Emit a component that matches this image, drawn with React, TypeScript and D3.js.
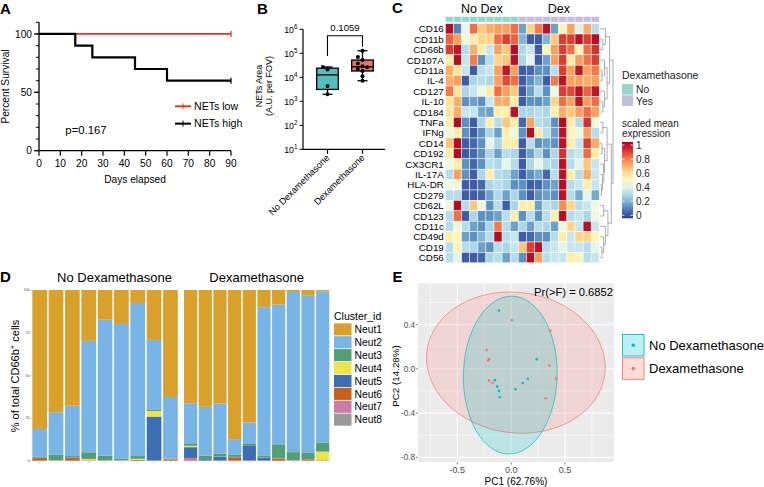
import React from "react";
import * as d3 from "d3";

const FF = "'Liberation Sans', Arial, Helvetica, sans-serif";

// ---------------- Panel A : Kaplan-Meier ----------------
const kmDayTicks = [0, 10, 20, 30, 40, 50, 60, 70, 80, 90];
const kmPctTicks = [0, 50, 100];
const kmPctMinor = [0, 10, 20, 30, 40, 50, 60, 70, 80, 90, 100, 110];
const netsLowTimes = [0, 90];
const netsLowSurv = [100, 100];
const netsHighTimes = [0, 17, 25, 45, 60, 90];
const netsHighSurv = [100, 90, 80, 70, 60, 60];
const kmLegend = ["NETs low", "NETs high"];
const kmColors = ["#E8321E", "#000000"];
const kmP = "p=0.167";

// ---------------- Panel B : box plot ----------------
const bGroups = ["No Dexamethasone", "Dexamethasone"];
const bNoDex = [1950, 4300, 21000, 27000];
const bDex = [7200, 11000, 18300, 22000, 26000, 29000, 38000, 52500, 70000, 128000];
const bColors = ["#52BEC0", "#E5746B"];
const bTicks = [1e1, 1e2, 1e3, 1e4, 1e5, 1e6];
const bP = "0.1059";

// ---------------- Panel C : heatmap ----------------
const hmMarkers = ["CD16", "CD11b", "CD66b", "CD107A", "CD11a", "IL-4", "CD127", "IL-10", "CD184", "TNFa", "IFNg", "CD14", "CD192", "CX3CR1", "IL-17A", "HLA-DR", "CD279", "CD62L", "CD123", "CD11c", "CD49d", "CD19", "CD56"];
const hmColGroup = ["No", "No", "No", "No", "No", "No", "No", "No", "No", "Yes", "Yes", "Yes", "Yes", "Yes", "Yes", "Yes", "Yes", "Yes", "Yes"];
const hmValues = [
  [0.97, 0.12, 0.42, 0.8, 0.65, 0.7, 0.72, 0.72, 0.8, 0.18, 0.62, 0.78, 0.96, 0.18, 0.52, 0.72, 0.4, 0.7, 0.32],
  [0.82, 0.72, 0.45, 0.55, 0.62, 0.62, 0.8, 0.88, 0.82, 0.22, 0.06, 0.06, 0.22, 0.65, 0.88, 0.88, 0.96, 0.88, 0.97],
  [0.88, 0.95, 0.32, 0.7, 0.55, 0.35, 0.72, 0.65, 0.97, 0.3, 0.35, 0.06, 0.52, 0.72, 0.88, 0.8, 0.52, 0.8, 0.9],
  [0.55, 0.97, 0.35, 0.78, 0.15, 0.32, 0.62, 0.65, 0.96, 0.3, 0.42, 0.06, 0.18, 0.72, 0.88, 0.55, 0.72, 0.8, 0.88],
  [0.7, 0.58, 0.35, 0.06, 0.32, 0.35, 0.72, 0.95, 0.72, 0.06, 0.08, 0.15, 0.15, 0.32, 0.88, 0.72, 0.95, 0.72, 0.78],
  [0.7, 0.72, 0.06, 0.3, 0.32, 0.3, 0.72, 0.86, 0.8, 0.06, 0.15, 0.22, 0.06, 0.78, 0.96, 0.72, 0.72, 0.7, 0.72],
  [0.78, 0.58, 0.3, 0.35, 0.45, 0.55, 0.8, 0.72, 0.65, 0.06, 0.18, 0.32, 0.15, 0.45, 0.88, 0.86, 0.96, 0.82, 0.95],
  [0.58, 0.7, 0.15, 0.18, 0.15, 0.35, 0.7, 0.7, 0.55, 0.06, 0.15, 0.15, 0.18, 0.62, 0.8, 0.72, 0.95, 0.72, 0.8],
  [0.58, 0.7, 0.35, 0.35, 0.2, 0.18, 0.55, 0.55, 0.96, 0.3, 0.3, 0.32, 0.3, 0.55, 0.7, 0.65, 0.72, 0.8, 0.72],
  [0.55, 0.97, 0.15, 0.06, 0.3, 0.55, 0.32, 0.65, 0.55, 0.08, 0.72, 0.32, 0.3, 0.15, 0.97, 0.55, 0.32, 0.9, 0.45],
  [0.45, 0.55, 0.15, 0.06, 0.15, 0.3, 0.18, 0.55, 0.45, 0.15, 0.97, 0.55, 0.32, 0.18, 0.96, 0.52, 0.45, 0.72, 0.32],
  [0.65, 0.97, 0.06, 0.08, 0.15, 0.42, 0.3, 0.55, 0.55, 0.06, 0.32, 0.15, 0.18, 0.15, 0.96, 0.55, 0.35, 0.88, 0.7],
  [0.55, 0.97, 0.06, 0.08, 0.15, 0.3, 0.18, 0.32, 0.3, 0.06, 0.18, 0.3, 0.15, 0.3, 0.9, 0.32, 0.35, 0.8, 0.55],
  [0.45, 0.55, 0.15, 0.08, 0.15, 0.32, 0.3, 0.42, 0.32, 0.06, 0.3, 0.42, 0.32, 0.3, 0.96, 0.32, 0.42, 0.65, 0.35],
  [0.32, 0.72, 0.15, 0.06, 0.3, 0.55, 0.32, 0.3, 0.18, 0.06, 0.15, 0.2, 0.08, 0.32, 0.96, 0.55, 0.32, 0.7, 0.35],
  [0.45, 0.45, 0.06, 0.06, 0.08, 0.3, 0.32, 0.3, 0.15, 0.15, 0.06, 0.08, 0.15, 0.18, 0.97, 0.32, 0.35, 0.55, 0.35],
  [0.32, 0.32, 0.06, 0.06, 0.08, 0.18, 0.3, 0.18, 0.3, 0.15, 0.06, 0.15, 0.18, 0.15, 0.96, 0.32, 0.2, 0.42, 0.2],
  [0.45, 0.97, 0.32, 0.65, 0.45, 0.15, 0.32, 0.06, 0.3, 0.55, 0.55, 0.18, 0.32, 0.3, 0.75, 0.62, 0.32, 0.35, 0.45],
  [0.32, 0.8, 0.06, 0.3, 0.15, 0.15, 0.18, 0.32, 0.55, 0.15, 0.32, 0.15, 0.32, 0.55, 0.97, 0.32, 0.35, 0.3, 0.45],
  [0.32, 0.45, 0.32, 0.18, 0.15, 0.3, 0.78, 0.32, 0.18, 0.3, 0.18, 0.32, 0.3, 0.18, 0.45, 0.62, 0.35, 0.96, 0.35],
  [0.55, 0.52, 0.18, 0.15, 0.22, 0.32, 0.97, 0.32, 0.35, 0.06, 0.08, 0.15, 0.15, 0.32, 0.55, 0.35, 0.62, 0.62, 0.52],
  [0.32, 0.52, 0.32, 0.3, 0.18, 0.15, 0.32, 0.3, 0.35, 0.65, 0.88, 0.96, 0.32, 0.35, 0.42, 0.35, 0.35, 0.32, 0.42],
  [0.32, 0.42, 0.06, 0.06, 0.08, 0.3, 0.32, 0.18, 0.32, 0.15, 0.97, 0.72, 0.32, 0.35, 0.35, 0.55, 0.52, 0.32, 0.35],
];
const hmGroupLabels = ["No Dex", "Dex"];
const hmGroupColors: Record<string, string> = { No: "#96D6CA", Yes: "#C2BEDF" };
const hmLegendTicks = [0, 0.2, 0.4, 0.6, 0.8, 1];
type DNode = number | { h: number; l: DNode; r: DNode };
const dn = (h: number, l: DNode, r: DNode): DNode => ({ h, l, r });
const hmDendro: DNode = dn(15,
  dn(11, dn(6, 0, dn(3, 1, 2)), dn(8, dn(5, 3, dn(2, 4, 5)), dn(5, 6, dn(3, 7, 8)))),
  dn(13,
    dn(8, dn(3, 9, 10), dn(5, dn(2, 11, 12), dn(4, 13, dn(2.5, 14, dn(1.5, 15, 16))))),
    dn(9, dn(4, 17, 18), dn(6, 19, dn(4, 20, dn(2, 21, 22))))));

// ---------------- Panel D : stacked bars ----------------
const dGroups = ["No Dexamethasone", "Dexamethasone"];
const dSampleGroup = [0, 0, 0, 0, 0, 0, 0, 0, 0, 1, 1, 1, 1, 1, 1, 1, 1, 1, 1];
const dClusters = ["Neut1", "Neut2", "Neut3", "Neut4", "Neut5", "Neut6", "Neut7", "Neut8"];
const dColors = ["#D9A02B", "#79B4E6", "#519F77", "#ECE44A", "#3B6EB2", "#C8611D", "#C97BAA", "#9A9A9A"];
const dNeut1 = [81.5, 71.7, 67.7, 29.8, 17.4, 19.9, 7.6, 29.2, 63.0, 66.3, 68.6, 66.7, 87.3, 77.8, 10.1, 8.6, 1.2, 3.1, 0.8];
const dNeut2 = [16.4, 25.0, 29.5, 65.3, 79.7, 79.1, 89.6, 41.0, 36.2, 23.4, 28.6, 29.5, 9.2, 12.2, 87.3, 81.8, 93.9, 92.6, 88.7];
const dNeut3 = [0.5, 3.1, 1.0, 3.9, 2.7, 0.8, 1.6, 0.6, 0.3, 1.5, 2.0, 1.5, 1.2, 1.0, 1.0, 8.2, 4.7, 3.5, 5.4];
const dNeut4 = [0.1, 0.1, 0.1, 0.8, 0.1, 0.1, 0.5, 3.3, 0.1, 0.8, 0.1, 0.1, 0.1, 0.1, 0.1, 0.1, 0.1, 0.1, 5.1];
const dNeut5 = [0.1, 0.1, 0.1, 0.1, 0.1, 0.1, 0.1, 25.7, 0.1, 6.3, 0.8, 2.3, 0.1, 9.0, 1.6, 0.1, 0.1, 0.1, 0.1];
const dNeut6 = [1.5, 0.1, 1.5, 0.1, 0.1, 0.1, 0.5, 0.1, 0.8, 0.5, 0.1, 0.1, 2.0, 0.1, 0.1, 1.2, 0.1, 0.8, 0.1];
const dNeut7 = [0.1, 0.1, 0.1, 0.1, 0.1, 0.1, 0.1, 0.1, 0.1, 1.2, 0.1, 0.1, 0.1, 0.1, 0.1, 0.1, 0.1, 0.1, 0.1];
const dNeut8 = [0.1, 0.1, 0.1, 0.1, 0.1, 0.1, 0.1, 0.1, 0.1, 0.1, 0.1, 0.1, 0.1, 0.1, 0.1, 0.1, 0.1, 0.1, 0.1];
const dYTicks = [0, 25, 50, 75, 100];

// ---------------- Panel E : PCA ----------------
const eGroups = ["No Dexamethasone", "Dexamethasone"];
const eColors = ["#00BFC4", "#F8766D"];
const eNoDexPC1 = [-0.114, 0.238, 0.155, 0.108, 0.04, -0.151, -0.13, -0.114, -0.105];
const eNoDexPC2 = [0.527, 0.088, -0.09, -0.127, -0.184, -0.102, -0.16, -0.199, -0.256];
const eDexPC1 = [0.006, 0.364, -0.229, -0.204, -0.213, 0.355, 0.417, -0.204, -0.173, 0.321];
const eDexPC2 = [0.44, 0.346, 0.172, 0.09, 0.075, 0.03, -0.088, -0.106, -0.127, -0.265];
const eXTicks = [-0.5, 0, 0.5];
const eXMinor = [-0.75, -0.25, 0.25, 0.75];
const eYTicks = [-0.8, -0.4, 0, 0.4];
const eYMinor = [-0.6, -0.2, 0.2, 0.6];
const eStat = "Pr(>F) = 0.6852";

// ======================================================
function PanelLabel({ x, y, t }: { x: number; y: number; t: string }) {
  return <text x={x} y={y} fontSize={15} fontWeight="bold" fill="#000">{t}</text>;
}

function PanelA() {
  const x = d3.scaleLinear().domain([0, 90]).range([39, 231]);
  const y = d3.scaleLinear().domain([0, 110]).range([150.7, 22.3]);
  const mk = (times: number[], surv: number[]) =>
    d3.line<number>().x((_, i) => x(times[i])).y((d) => y(d)).curve(d3.curveStepAfter)(surv) || "";
  const series = [
    { t: netsLowTimes, s: netsLowSurv },
    { t: netsHighTimes, s: netsHighSurv },
  ];
  return (
    <g>
      <PanelLabel x={0} y={13.5} t="A" />
      {series.map((sr, i) => (
        <g key={i}>
          <path d={mk(sr.t, sr.s)} fill="none" stroke={kmColors[i]} strokeWidth={i === 0 ? 1.8 : 2.2} />
          <line x1={x(sr.t[sr.t.length - 1])} x2={x(sr.t[sr.t.length - 1])} y1={y(sr.s[sr.s.length - 1]) - 3} y2={y(sr.s[sr.s.length - 1]) + 3} stroke={kmColors[i]} strokeWidth={1.2} />
        </g>
      ))}
      <line x1={x(0)} x2={x(0)} y1={y(110)} y2={y(0)} stroke="#000" strokeWidth={1.3} />
      <line x1={x(0)} x2={x(90)} y1={y(0)} y2={y(0)} stroke="#000" strokeWidth={1.3} />
      {kmPctMinor.map((v) => (
        <line key={v} x1={x(0) - 3} x2={x(0)} y1={y(v)} y2={y(v)} stroke="#000" strokeWidth={1} />
      ))}
      {kmPctTicks.map((v) => (
        <g key={v}>
          <line x1={x(0) - 5} x2={x(0)} y1={y(v)} y2={y(v)} stroke="#000" strokeWidth={1.2} />
          <text x={x(0) - 7} y={y(v) + 3.6} fontSize={10.2} textAnchor="end">{v}</text>
        </g>
      ))}
      {kmDayTicks.map((v) => (
        <g key={v}>
          <line x1={x(v)} x2={x(v)} y1={y(0)} y2={y(0) + 5} stroke="#000" strokeWidth={1.2} />
          <text x={x(v)} y={y(0) + 16} fontSize={10.2} textAnchor="middle">{v}</text>
        </g>
      ))}
      <text x={(x(0) + x(90)) / 2} y={183} fontSize={10.2} textAnchor="middle">Days elapsed</text>
      <text transform={`translate(8.5,${y(55)}) rotate(-90)`} fontSize={10.2} textAnchor="middle">Percent Survival</text>
      <text x={x(22)} y={y(14.5)} fontSize={11.3} textAnchor="middle">{kmP}</text>
      {kmLegend.map((l, i) => {
        const ly = y(38) + i * 17.3;
        return (
          <g key={l}>
            <line x1={175} x2={191} y1={ly} y2={ly} stroke={kmColors[i]} strokeWidth={2} />
            <line x1={183} x2={183} y1={ly - 3} y2={ly + 3} stroke={kmColors[i]} strokeWidth={1} />
            <text x={194} y={ly + 3.8} fontSize={10.6}>{l}</text>
          </g>
        );
      })}
    </g>
  );
}

function hinges(vals: number[]) {
  const s = [...vals].sort((a, b) => a - b);
  const n = s.length;
  const lower = s.slice(0, Math.floor(n / 2));
  const upper = s.slice(Math.ceil(n / 2));
  return { min: s[0], q1: d3.median(lower)!, med: d3.median(s)!, q3: d3.median(upper)!, max: s[n - 1] };
}

function swarm(vals: number[], y: (v: number) => number) {
  const placed: { dx: number; py: number }[] = [];
  const order = [...vals].sort((a, b) => a - b);
  return order.map((v) => {
    const py = y(v);
    const tries = [0, -4.6, 4.6, -9, 9];
    let dx = 0;
    for (const t of tries) {
      if (placed.every((p) => Math.hypot(p.dx - t, p.py - py) >= 4.3)) { dx = t; break; }
    }
    placed.push({ dx, py });
    return { dx, py };
  });
}

function PanelB() {
  const y = d3.scaleLog().domain([10, 1e6]).range([149.3, 29.3]);
  const x = d3.scalePoint().domain(bGroups).range([327.5, 362.5]);
  const data = [bNoDex, bDex];
  const bw = 21.6;
  const stats = data.map(hinges);
  const bracketY = y(Math.max(stats[0].max, stats[1].max)) - 15;
  return (
    <g>
      <PanelLabel x={257} y={13.5} t="B" />
      <line x1={303} x2={303} y1={y(1e6)} y2={y(10)} stroke="#000" strokeWidth={1.2} />
      <line x1={303} x2={385} y1={y(10)} y2={y(10)} stroke="#000" strokeWidth={1.2} />
      {bTicks.map((t) => (
        <g key={t}>
          <line x1={299.5} x2={303} y1={y(t)} y2={y(t)} stroke="#000" strokeWidth={1} />
          <text x={297.5} y={y(t) + 3.2} fontSize={8.8} textAnchor="end">
            10<tspan dy={-3.5} fontSize={6.3}>{Math.round(Math.log10(t))}</tspan>
          </text>
        </g>
      ))}
      <text transform={`translate(262,86) rotate(-90)`} fontSize={9} textAnchor="middle">NETs Area</text>
      <text transform={`translate(272,86) rotate(-90)`} fontSize={9} textAnchor="middle">(A.U. per FOV)</text>
      {bGroups.map((g, i) => {
        const cx = x(g)!;
        const s = stats[i];
        const pts = swarm(data[i], (v) => y(v));
        return (
          <g key={g}>
            <line x1={cx} x2={cx} y1={y(s.max)} y2={y(s.q3)} stroke="#000" strokeWidth={1.3} />
            <line x1={cx} x2={cx} y1={y(s.q1)} y2={y(s.min)} stroke="#000" strokeWidth={1.3} />
            <line x1={cx - 5} x2={cx + 5} y1={y(s.max)} y2={y(s.max)} stroke="#000" strokeWidth={1.3} />
            <line x1={cx - 5} x2={cx + 5} y1={y(s.min)} y2={y(s.min)} stroke="#000" strokeWidth={1.3} />
            <rect x={cx - bw / 2} y={y(s.q3)} width={bw} height={y(s.q1) - y(s.q3)} fill={bColors[i]} stroke="#000" strokeWidth={1.3} />
            <line x1={cx - bw / 2} x2={cx + bw / 2} y1={y(s.med)} y2={y(s.med)} stroke="#000" strokeWidth={1.3} />
            {pts.map((p, j) => (
              <circle key={j} cx={cx + p.dx} cy={p.py} r={2} fill="#000" />
            ))}
            <line x1={cx} x2={cx} y1={y(10)} y2={y(10) + 4.5} stroke="#000" strokeWidth={1.2} />
            <text transform={`translate(${cx + 2.5},${y(10) + 9}) rotate(-45)`} fontSize={9.2} textAnchor="end">{g}</text>
          </g>
        );
      })}
      <path d={`M${x(bGroups[0])},${y(stats[0].max) - 11}V${bracketY}H${x(bGroups[1])}V${y(stats[1].max) - 4}`} fill="none" stroke="#000" strokeWidth={1.1} />
      <text x={(x(bGroups[0])! + x(bGroups[1])!) / 2} y={bracketY - 4.5} fontSize={9.6} textAnchor="middle">{bP}</text>
    </g>
  );
}

function PanelC() {
  const nCols = hmColGroup.length;
  const x = d3.scaleBand<number>().domain(d3.range(nCols)).range([445.4, 599.3]);
  const y = d3.scaleBand<number>().domain(d3.range(hmMarkers.length)).range([23.6, 262.8]);
  const color = (v: number) => d3.interpolateRdYlBu(1 - v);
  const dx = d3.scaleLinear().domain([0, 15]).range([600.3, 613]);
  const segs: { x1: number; y1: number; x2: number; y2: number }[] = [];
  const walk = (nd: DNode): { x: number; y: number } => {
    if (typeof nd === "number") return { x: dx(0), y: y(nd)! + y.bandwidth() / 2 };
    const a = walk(nd.l), b = walk(nd.r);
    const nx = dx(nd.h);
    segs.push({ x1: a.x, y1: a.y, x2: nx, y2: a.y });
    segs.push({ x1: b.x, y1: b.y, x2: nx, y2: b.y });
    segs.push({ x1: nx, y1: a.y, x2: nx, y2: b.y });
    return { x: nx, y: (a.y + b.y) / 2 };
  };
  walk(hmDendro);
  const groupIdx = ["No", "Yes"].map((g) => hmColGroup.map((c, i) => (c === g ? i : -1)).filter((i) => i >= 0));
  const lg = d3.scaleLinear().domain([0, 1]).range([215.3, 145]);
  const stops = d3.range(0, 1.0001, 0.1);
  return (
    <g>
      <PanelLabel x={392} y={13} t="C" />
      {groupIdx.map((idx, gi) => (
        <text key={gi} x={(x(idx[0])! + x(idx[idx.length - 1])! + x.bandwidth()) / 2} y={12.5} fontSize={12.5} textAnchor="middle">{hmGroupLabels[gi]}</text>
      ))}
      {hmColGroup.map((g, i) => (
        <rect key={i} x={x(i)} y={16.5} width={x.bandwidth()} height={5.6} fill={hmGroupColors[g]} stroke="#fff" strokeWidth={0.5} />
      ))}
      {hmValues.map((row, r) => (
        <g key={r}>
          {row.map((v, c) => (
            <rect key={c} x={x(c)} y={y(r)} width={x.bandwidth()} height={y.bandwidth()} fill={color(v)} stroke="#fff" strokeWidth={0.5} />
          ))}
          <text x={443.8} y={y(r)! + y.bandwidth() / 2 + 3.5} fontSize={9.8} textAnchor="end">{hmMarkers[r]}</text>
        </g>
      ))}
      {segs.map((s, i) => (
        <line key={i} x1={s.x1} y1={s.y1} x2={s.x2} y2={s.y2} stroke="#8a8a8a" strokeWidth={0.7} />
      ))}
      <text x={622} y={79} fontSize={10.5} fill="#222">Dexamethasone</text>
      {["No", "Yes"].map((g, i) => (
        <g key={g}>
          <rect x={622} y={84 + i * 11.3} width={11} height={10.6} fill={hmGroupColors[g]} />
          <text x={636} y={93.3 + i * 11.3} fontSize={10.3} fill="#222">{g}</text>
        </g>
      ))}
      <text x={622} y={126.5} fontSize={10} fill="#222">scaled mean</text>
      <text x={622} y={137} fontSize={10} fill="#222">expression</text>
      <defs>
        <linearGradient id="hmgrad" x1="0" y1="1" x2="0" y2="0">
          {stops.map((s) => (
            <stop key={s} offset={s} stopColor={color(s)} />
          ))}
        </linearGradient>
      </defs>
      <rect x={622} y={lg(1) - 3} width={11} height={lg(0) - lg(1) + 6} fill="url(#hmgrad)" />
      {hmLegendTicks.map((t) => (
        <g key={t}>
          <line x1={622} x2={624.5} y1={lg(t)} y2={lg(t)} stroke="#fff" strokeWidth={0.8} />
          <line x1={630.5} x2={633} y1={lg(t)} y2={lg(t)} stroke="#fff" strokeWidth={0.8} />
          <text x={636} y={lg(t) + 3.5} fontSize={10} fill="#222">{t}</text>
        </g>
      ))}
    </g>
  );
}

function PanelD() {
  const cols = [dNeut1, dNeut2, dNeut3, dNeut4, dNeut5, dNeut6, dNeut7, dNeut8];
  const rows = dSampleGroup.map((_, i) => {
    const o: Record<string, number> = {};
    dClusters.forEach((k, j) => (o[k] = cols[j][i]));
    return o;
  });
  const keys = [...dClusters].reverse();
  const stacked = d3.stack<Record<string, number>>().keys(keys).offset(d3.stackOffsetExpand)(rows);
  const y = d3.scaleLinear().domain([0, 1]).range([461, 290]);
  const facetRanges: [number, number][] = [[31.5, 178.6], [183.3, 330]];
  const sampleIdx = dGroups.map((_, g) => dSampleGroup.map((sg, i) => (sg === g ? i : -1)).filter((i) => i >= 0));
  const xs = sampleIdx.map((idx, g) =>
    d3.scaleBand<number>().domain(idx).range(facetRanges[g]).paddingInner(0.1).paddingOuter(0.05)
  );
  const xOf = (i: number) => xs[dSampleGroup[i]](i)!;
  const bwOf = (i: number) => xs[dSampleGroup[i]].bandwidth();
  const titleX = [114.5, (facetRanges[1][0] + facetRanges[1][1]) / 2];
  return (
    <g>
      <PanelLabel x={0} y={282} t="D" />
      {dGroups.map((g, i) => (
        <text key={g} x={titleX[i]} y={281.5} fontSize={13} textAnchor="middle">{g}</text>
      ))}
      {stacked.map((layer) => {
        const ci = dClusters.indexOf(layer.key);
        return (
          <g key={layer.key}>
            {layer.map((d, i) => (
              <rect key={i} x={xOf(i)} y={y(d[1])} width={bwOf(i)} height={Math.max(0, y(d[0]) - y(d[1]))} fill={dColors[ci]} />
            ))}
          </g>
        );
      })}
      {dSampleGroup.map((_, i) => (
        <line key={i} x1={xOf(i) + bwOf(i) / 2} x2={xOf(i) + bwOf(i) / 2} y1={461.5} y2={463} stroke="#555" strokeWidth={0.4} />
      ))}
      {dYTicks.map((t) => (
        <g key={t}>
          <line x1={30} x2={31.3} y1={y(t / 100)} y2={y(t / 100)} stroke="#555" strokeWidth={0.4} />
          <text x={29.5} y={y(t / 100) + 1.2} fontSize={3.6} textAnchor="end" fill="#444">{t}</text>
        </g>
      ))}
      <text transform="translate(19,376) rotate(-90)" fontSize={11} textAnchor="middle">
        % of total CD66b<tspan dy={-4} fontSize={7.5}>+</tspan><tspan dy={4}> cells</tspan>
      </text>
      <text x={334} y={320} fontSize={10.5}>Cluster_id</text>
      {dClusters.map((c, i) => (
        <g key={c}>
          <rect x={334} y={323.3 + i * 12.9} width={17.5} height={12.1} fill={dColors[i]} />
          <text x={354.5} y={333 + i * 12.9} fontSize={10.3}>{c}</text>
        </g>
      ))}
    </g>
  );
}

function ellipsePath(xs: number[], ys: number[], sx: (v: number) => number, sy: (v: number) => number) {
  const n = xs.length;
  const mx = d3.mean(xs)!, my = d3.mean(ys)!;
  let a = 0, b = 0, c = 0;
  for (let i = 0; i < n; i++) {
    a += (xs[i] - mx) ** 2;
    b += (xs[i] - mx) * (ys[i] - my);
    c += (ys[i] - my) ** 2;
  }
  a /= n - 1; b /= n - 1; c /= n - 1;
  const m = n - 1;
  const fq = (m / 2) * (Math.pow(0.05, -2 / m) - 1);
  const rad = Math.sqrt(2 * fq);
  const l11 = Math.sqrt(a), l12 = b / l11, l22 = Math.sqrt(c - l12 * l12);
  const pts: [number, number][] = d3.range(0, 101).map((k) => {
    const t = (k / 100) * Math.PI * 2;
    return [sx(mx + rad * Math.cos(t) * l11), sy(my + rad * (Math.cos(t) * l12 + Math.sin(t) * l22))];
  });
  return d3.line()(pts) + "Z";
}

function PanelE() {
  const x = d3.scaleLinear().domain([-0.865, 0.955]).range([418, 614]);
  const y = d3.scaleLinear().domain([-0.842, 0.775]).range([462, 283.2]);
  const groups = [
    { xs: eNoDexPC1, ys: eNoDexPC2, col: eColors[0] },
    { xs: eDexPC1, ys: eDexPC2, col: eColors[1] },
  ];
  const drawOrder = [1, 0];
  const fmt = d3.format(".1f");
  const lab = (v: number) => fmt(v).replace("\u2212", "-");
  return (
    <g>
      <PanelLabel x={392.5} y={282} t="E" />
      <rect x={x(-0.865)} y={y(0.775)} width={x(0.955) - x(-0.865)} height={y(-0.842) - y(0.775)} fill="#EBEBEB" />
      {eXMinor.map((v) => <line key={"xm" + v} x1={x(v)} x2={x(v)} y1={y(0.775)} y2={y(-0.842)} stroke="#fff" strokeWidth={0.5} />)}
      {eYMinor.map((v) => <line key={"ym" + v} x1={418} x2={614} y1={y(v)} y2={y(v)} stroke="#fff" strokeWidth={0.5} />)}
      {eXTicks.map((v) => <line key={"x" + v} x1={x(v)} x2={x(v)} y1={y(0.775)} y2={y(-0.842)} stroke="#fff" strokeWidth={1} />)}
      {eYTicks.map((v) => <line key={"y" + v} x1={418} x2={614} y1={y(v)} y2={y(v)} stroke="#fff" strokeWidth={1} />)}
      {drawOrder.map((gi) => (
        <path key={gi} d={ellipsePath(groups[gi].xs, groups[gi].ys, x, y)} fill={groups[gi].col} fillOpacity={0.2} stroke={groups[gi].col} strokeWidth={0.7} />
      ))}
      {drawOrder.map((gi) => (
        <g key={"p" + gi}>
          {groups[gi].xs.map((v, i) => (
            <circle key={i} cx={x(v)} cy={y(groups[gi].ys[i])} r={1.3} fill={groups[gi].col} />
          ))}
        </g>
      ))}
      <text x={613} y={296} fontSize={11.2} textAnchor="end">{eStat}</text>
      {eXTicks.map((v) => (
        <g key={v}>
          <line x1={x(v)} x2={x(v)} y1={462} y2={464.5} stroke="#333" strokeWidth={0.6} />
          <text x={x(v)} y={472.5} fontSize={9} textAnchor="middle" fill="#4D4D4D">{lab(v)}</text>
        </g>
      ))}
      {eYTicks.map((v) => (
        <g key={v}>
          <line x1={415.8} x2={418} y1={y(v)} y2={y(v)} stroke="#333" strokeWidth={0.6} />
          <text x={415.2} y={y(v) + 3} fontSize={8.3} textAnchor="end" fill="#4D4D4D">{lab(v)}</text>
        </g>
      ))}
      <text x={(418 + 614) / 2} y={484.5} fontSize={10} textAnchor="middle">PC1 (62.76%)</text>
      <text transform="translate(398.5,376) rotate(-90)" fontSize={9.8} textAnchor="middle">PC2 (14.28%)</text>
      {eGroups.map((g, i) => (
        <g key={g}>
          <rect x={622.5} y={334.5 + i * 23.3} width={21.5} height={21.5} fill="#fff" />
          <rect x={622.5} y={334.5 + i * 23.3} width={21.5} height={21.5} fill={eColors[i]} fillOpacity={0.25} stroke={eColors[i]} strokeWidth={0.9} />
          <circle cx={633.25} cy={345.25 + i * 23.3} r={1.8} fill={eColors[i]} />
          <text x={649} y={349.8 + i * 23.3} fontSize={13}>{g}</text>
        </g>
      ))}
    </g>
  );
}

export default function App() {
  return (
    <svg width={764} height={487} style={{ position: "absolute", left: 0, top: 0, background: "#fff" }} fontFamily={FF}>
      <rect width={764} height={487} fill="#fff" />
      <PanelA />
      <PanelB />
      <PanelC />
      <PanelD />
      <PanelE />
    </svg>
  );
}
